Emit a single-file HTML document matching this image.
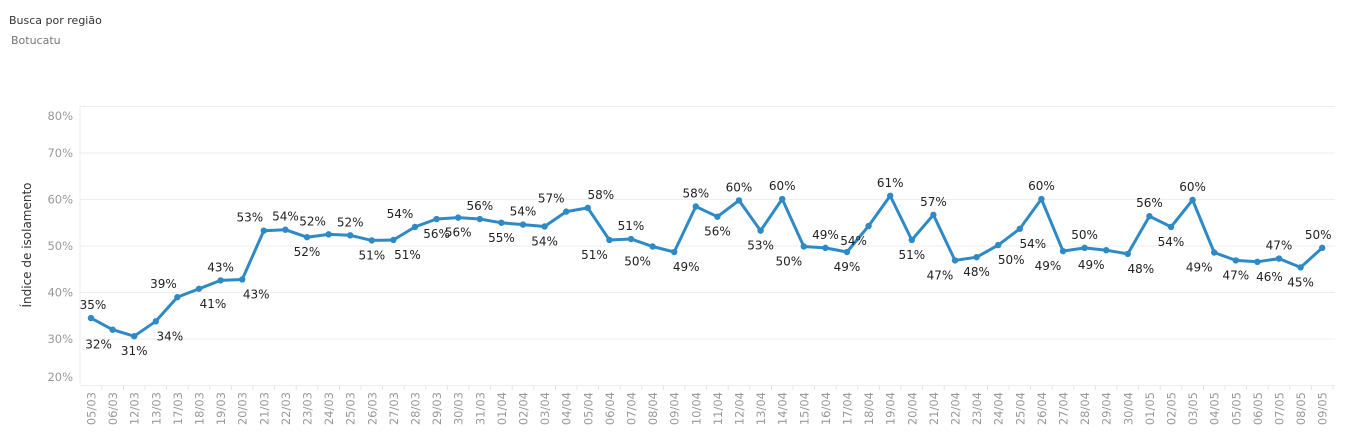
<!DOCTYPE html>
<html><head><meta charset="utf-8"><style>
body{margin:0;background:#fff;width:1345px;height:435px;overflow:hidden;font-family:"DejaVu Sans","Liberation Sans",sans-serif}
</style></head><body>
<svg id="s" width="1345" height="435" xmlns="http://www.w3.org/2000/svg" font-family="DejaVu Sans, Liberation Sans, sans-serif">
<text x="9" y="24" font-size="11" fill="#333">Busca por região</text>
<text x="11" y="44" font-size="11" fill="#777">Botucatu</text>
<text transform="translate(31,245) rotate(-90)" text-anchor="middle" font-size="12" fill="#333">Índice de isolamento</text>
</svg>
<script>
const s=document.getElementById('s'),NS='http://www.w3.org/2000/svg';
function el(t,a,txt){const e=document.createElementNS(NS,t);for(const k in a)e.setAttribute(k,a[k]);if(txt!==undefined)e.textContent=txt;s.appendChild(e);return e;}
const Y=v=>246-(v-50)*4.65;
el('line',{x1:80,y1:106,x2:80,y2:385,stroke:'#eee'});
for(let v=20;v<=80;v+=10){el('line',{x1:80,y1:Y(v),x2:1335,y2:Y(v),stroke:'#eee'});
el('text',{x:73,y:Math.min(Math.max(Y(v)+4,120),381),'text-anchor':'end','font-size':11.5,fill:'#999'},v+'%');}
const d=['05/03','06/03','12/03','13/03','17/03','18/03','19/03','20/03'];
for(let i=21;i<=31;i++)d.push(i+'/03');
for(let i=1;i<=30;i++)d.push(String(i).padStart(2,'0')+'/04');
for(let i=1;i<=9;i++)d.push('0'+i+'/05');
const v=[34.5,32,30.6,33.8,39,40.8,42.6,42.8,53.3,53.5,51.9,52.5,52.3,51.2,51.3,54.1,55.8,56.1,55.8,55,54.6,54.2,57.4,58.2,51.3,51.5,49.9,48.7,58.5,56.3,59.8,53.3,60.1,49.9,49.6,48.7,54.3,60.8,51.3,56.7,46.9,47.6,50.2,53.7,60.1,48.9,49.6,49.1,48.3,56.4,54.1,59.9,48.6,46.9,46.6,47.3,45.4,49.6];
const L=[35,32,31,34,39,41,43,43,53,54,52,52,52,51,51,54,56,56,56,55,54,54,57,58,51,51,50,49,58,56,60,53,60,50,49,49,54,61,51,57,47,48,50,54,60,49,50,49,48,56,54,60,49,47,46,47,45,50];
const dx=[2,-14,0,14,-14,14,0,14,-14,0,0,-16,0,0,14,-15,0,0,0,0,0,0,-15,13,-15,0,-15,12,0,0,0,0,0,-15,0,0,-15,0,0,0,-15,0,13,13,0,-15,0,-15,13,0,0,0,-15,0,12,0,0,-4];
const ab="ABBBABABAABAABBABBABABAABABBABABABABBABABBBBABABBABABBBABA";
const X=i=>91+i*21.6;
let p='';v.forEach((y,i)=>p+=(i?'L':'M')+X(i).toFixed(1)+' '+Y(y).toFixed(1));
el('path',{d:p,fill:'none',stroke:'#2e8ac6','stroke-width':3,'stroke-linejoin':'round'});
v.forEach((y,i)=>{el('circle',{cx:X(i),cy:Y(y),r:3.2,fill:'#2e8ac6'});
const a=ab[i]==='A';el('text',{x:X(i)+dx[i],y:a?Y(y)-9:Y(y)+19,'text-anchor':'middle','font-size':12,fill:'#222'},L[i]+'%');
el('line',{x1:X(i)+10.8,y1:385,x2:X(i)+10.8,y2:390,stroke:'#e4e4e4'});
el('text',{transform:`translate(${X(i)+4.5},${392}) rotate(-90)`,'text-anchor':'end','font-size':11.5,fill:'#999'},d[i]);});
</script>
</body></html>
